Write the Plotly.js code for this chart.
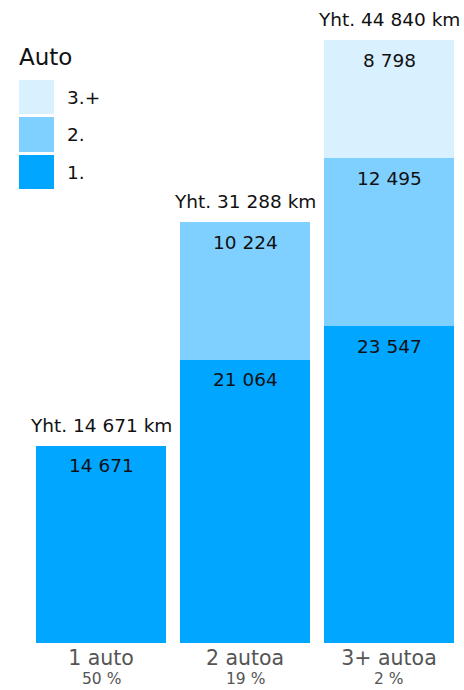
<!DOCTYPE html>
<html><head><meta charset="utf-8">
<script src="https://cdn.plot.ly/plotly-3.0.1.min.js"></script>
<style>html,body{margin:0;padding:0;background:#fff}</style>
</head><body>
<div id="chart" style="width:464px;height:690px"></div>
<script>
const categories = ['1 auto', '2 autoa', '3+ autoa'];
const shares = ['50 %', '19 %', '2 %'];
const seriesNames = ['1.', '2.', '3.+'];
const car1 = [14671, 21064, 23547];
const car2 = [null, 10224, 12495];
const car3 = [null, null, 8798];
const totals = [14671, 31288, 44840];
const colors = ['#00a6ff', '#80d0ff', '#d9f0ff'];

const W = 464, H = 690, L = 28, R = 2, T = 40, B = 47;
const pw = W - L - R, ph = H - T - B;
const px = v => (v - L) / pw;
const py = v => (H - B - v) / ph;

function fmt(n) { return String(n).replace(/\B(?=(\d{3})+(?!\d))/g, ' '); }

const font = 'DejaVu Sans, Verdana, sans-serif';
const series = [car1, car2, car3];
const traces = series.map((vals, i) => ({
  type: 'bar', x: categories, y: vals, name: seriesNames[i],
  marker: {color: colors[i]},
  hoverinfo: 'none', showlegend: false
}));

const annotations = [];
// segment value labels, placed just under each segment's top
series.forEach((vals, i) => {
  vals.forEach((v, j) => {
    if (v == null) return;
    let top = 0;
    for (let k = 0; k <= i; k++) top += series[k][j] || 0;
    annotations.push({x: categories[j], y: top, xref: 'x', yref: 'y', text: fmt(v),
      showarrow: false, yanchor: 'middle', yshift: -20,
      font: {family: font, size: 18.5, color: '#111'}});
  });
});
categories.forEach((c, i) => annotations.push({
  x: c, y: totals[i], xref: 'x', yref: 'y', text: 'Yht. ' + fmt(totals[i]) + ' km',
  showarrow: false, yanchor: 'middle', yshift: 20.5,
  font: {family: font, size: 18.5, color: '#111'}
}));
// share labels under category names
categories.forEach((c, i) => annotations.push({
  x: c, y: py(679.5), xref: 'x', yref: 'paper', text: shares[i],
  showarrow: false, yanchor: 'middle',
  font: {family: font, size: 15.5, color: '#555'}
}));
annotations.push({xref: 'paper', yref: 'paper', x: px(17), y: py(57), xanchor: 'left', yanchor: 'middle',
  text: 'Auto', showarrow: false, font: {family: font, size: 23, color: '#111'}});

const legendRows = [[80, 114, 2], [117, 152, 1], [155, 189, 0]];
const shapes = [];
legendRows.forEach(([y0, y1, k]) => {
  shapes.push({type: 'rect', xref: 'paper', yref: 'paper', x0: px(19), x1: px(54), y0: py(y1), y1: py(y0),
    line: {width: 0}, fillcolor: colors[k]});
  annotations.push({xref: 'paper', yref: 'paper', x: px(65), y: py((y0 + y1) / 2), xanchor: 'left', yanchor: 'middle',
    text: seriesNames[k], showarrow: false, font: {family: font, size: 18.5, color: '#111'}});
});

const layout = {
  width: W, height: H, barmode: 'stack', bargap: 0.1,
  margin: {l: L, r: R, t: T, b: B, pad: 0},
  paper_bgcolor: '#fff', plot_bgcolor: '#fff',
  showlegend: false,
  font: {family: font},
  xaxis: {tickmode: 'array', tickvals: categories, ticktext: categories, ticklabelstandoff: 0,
    tickfont: {family: font, size: 20.5, color: '#555'}, showline: false, ticks: '', ticklen: 0, fixedrange: true},
  yaxis: {range: [0, 44840], visible: false, showgrid: false, zeroline: false, fixedrange: true},
  annotations: annotations, shapes: shapes
};
Plotly.newPlot('chart', traces, layout, {displayModeBar: false, staticPlot: true});
</script>
</body></html>
